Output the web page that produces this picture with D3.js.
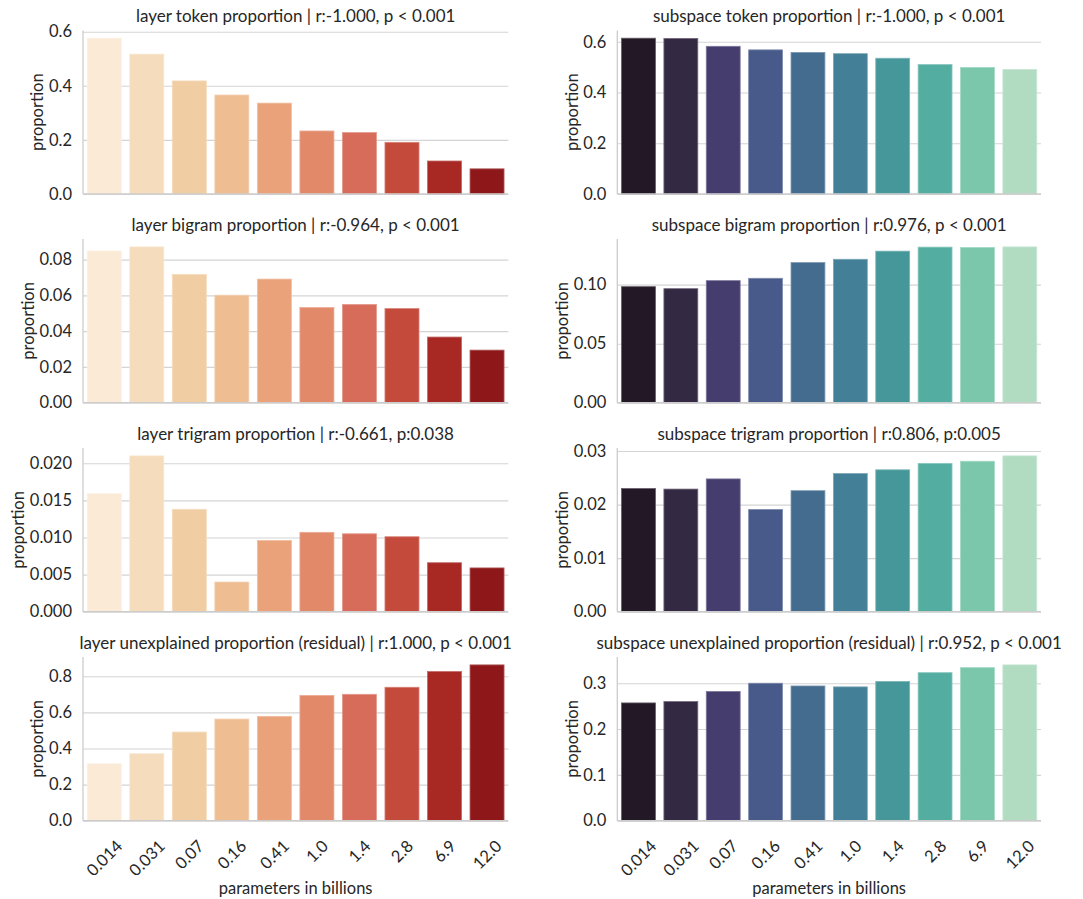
<!DOCTYPE html>
<html>
<head>
<meta charset="utf-8">
<script src="https://cdn.jsdelivr.net/npm/d3@7"></script>
<style>
  html, body { margin: 0; padding: 0; background: #ffffff; }
  svg text { font-family: "Lato", "Noto Sans", sans-serif; fill: #262626; }
</style>
</head>
<body>
<svg id="chart" width="1083" height="899"></svg>
<script>
// Model sizes (billions of parameters) on the x axis
const categories = ["0.014", "0.031", "0.07", "0.16", "0.41", "1.0", "1.4", "2.8", "6.9", "12.0"];

// Proportions explained per model size
const layerToken       = [0.576, 0.517, 0.418, 0.366, 0.336, 0.233, 0.227, 0.191, 0.122, 0.093];
const subspaceToken    = [0.614, 0.613, 0.582, 0.568, 0.558, 0.553, 0.535, 0.510, 0.499, 0.491];
const layerBigram      = [0.0848, 0.0871, 0.0717, 0.0601, 0.0691, 0.0532, 0.0549, 0.0526, 0.0367, 0.0294];
const subspaceBigram   = [0.0983, 0.0966, 0.1034, 0.1054, 0.1187, 0.1215, 0.1284, 0.1318, 0.1315, 0.1320];
const layerTrigram     = [0.0159, 0.0210, 0.0138, 0.0040, 0.0096, 0.0107, 0.0105, 0.0101, 0.0066, 0.0059];
const subspaceTrigram  = [0.0230, 0.0229, 0.0248, 0.0191, 0.0226, 0.0258, 0.0265, 0.0277, 0.0281, 0.0291];
const layerResidual    = [0.315, 0.371, 0.491, 0.563, 0.578, 0.694, 0.700, 0.739, 0.826, 0.863];
const subspaceResidual = [0.257, 0.260, 0.282, 0.300, 0.294, 0.292, 0.304, 0.323, 0.334, 0.340];

// Y tick values for each panel
const layerTokenTicks       = [0, 0.2, 0.4, 0.6];
const subspaceTokenTicks    = [0, 0.2, 0.4, 0.6];
const layerBigramTicks      = [0, 0.02, 0.04, 0.06, 0.08];
const subspaceBigramTicks   = [0, 0.05, 0.10];
const layerTrigramTicks     = [0, 0.005, 0.010, 0.015, 0.020];
const subspaceTrigramTicks  = [0, 0.01, 0.02, 0.03];
const layerResidualTicks    = [0, 0.2, 0.4, 0.6, 0.8];
const subspaceResidualTicks = [0, 0.1, 0.2, 0.3];

// Panel titles
const titles = [
  "layer token proportion | r:-1.000, p < 0.001",
  "subspace token proportion | r:-1.000, p < 0.001",
  "layer bigram proportion | r:-0.964, p < 0.001",
  "subspace bigram proportion | r:0.976, p < 0.001",
  "layer trigram proportion | r:-0.661, p:0.038",
  "subspace trigram proportion | r:0.806, p:0.005",
  "layer unexplained proportion (residual) | r:1.000, p < 0.001",
  "subspace unexplained proportion (residual) | r:0.952, p < 0.001"
];

// Palettes: warm sequential for layer panels, dark-to-mint for subspace panels
const layerColors    = ["#faead6", "#f5dcbc", "#f0cda2", "#eebd92", "#eaa27a", "#e2896a", "#d86c5a", "#c44b3c", "#a82824", "#8e1819"];
const subspaceColors = ["#221826", "#342943", "#453d6e", "#485a8a", "#446c8f", "#437f96", "#45979a", "#53ada1", "#7ac7ab", "#b1dcc1"];

const yLabel = "proportion";
const xLabel = "parameters in billions";

const panels = [
  { values: layerToken,       ticks: layerTokenTicks,       colors: layerColors,    col: 0, row: 0, title: titles[0] },
  { values: subspaceToken,    ticks: subspaceTokenTicks,    colors: subspaceColors, col: 1, row: 0, title: titles[1] },
  { values: layerBigram,      ticks: layerBigramTicks,      colors: layerColors,    col: 0, row: 1, title: titles[2] },
  { values: subspaceBigram,   ticks: subspaceBigramTicks,   colors: subspaceColors, col: 1, row: 1, title: titles[3] },
  { values: layerTrigram,     ticks: layerTrigramTicks,     colors: layerColors,    col: 0, row: 2, title: titles[4] },
  { values: subspaceTrigram,  ticks: subspaceTrigramTicks,  colors: subspaceColors, col: 1, row: 2, title: titles[5] },
  { values: layerResidual,    ticks: layerResidualTicks,    colors: layerColors,    col: 0, row: 3, title: titles[6] },
  { values: subspaceResidual, ticks: subspaceResidualTicks, colors: subspaceColors, col: 1, row: 3, title: titles[7] }
];

// Grid geometry
const colX = [[83, 508.3], [617.3, 1041]];
const rowBottom = [194, 402.7, 611.7, 820.7];
const plotH = 163.6;

const TITLE_FONT = 17;
const LABEL_FONT = 16.5;
const TICK_FONT = 16.5;
const GRID = "#d4d4d4";
const SPINE = "#cccccc";

const svg = d3.select("#chart");

panels.forEach(p => {
  const [x0, x1] = colX[p.col];
  const bottom = rowBottom[p.row];
  const top = bottom - plotH;
  const g = svg.append("g");

  const x = d3.scaleBand().domain(categories).range([x0, x1]).paddingInner(0.2).paddingOuter(0.1);
  const y = d3.scaleLinear().domain([0, d3.max(p.values) * 1.05]).range([bottom, top]);
  const step = p.ticks[1] - p.ticks[0];
  const fmt = d3.format("." + d3.precisionFixed(step) + "f");

  // Horizontal grid lines
  const gridG = g.append("g")
    .attr("transform", `translate(${x0},0)`)
    .call(d3.axisLeft(y).tickValues(p.ticks).tickSize(-(x1 - x0)).tickFormat(""));
  gridG.select(".domain").remove();
  gridG.selectAll("line").attr("stroke", GRID).attr("stroke-width", 1.1);

  // Bars
  g.append("g").selectAll("rect")
    .data(p.values)
    .join("rect")
    .attr("x", (d, i) => x(categories[i]))
    .attr("width", x.bandwidth())
    .attr("y", d => y(d))
    .attr("height", d => bottom - y(d))
    .attr("fill", (d, i) => p.colors[i])
    .attr("stroke", (d, i) => d3.interpolateRgb(p.colors[i], "#ffffff")(0.3))
    .attr("stroke-width", 0.8);

  // Y axis tick labels
  const yAxis = d3.axisLeft(y).tickValues(p.ticks).tickFormat(fmt).tickSize(0).tickPadding(11);
  const yAxisG = g.append("g").attr("transform", `translate(${x0},0)`).call(yAxis);
  yAxisG.select(".domain").remove();
  yAxisG.attr("font-family", null).attr("font-size", null);
  yAxisG.selectAll("text").attr("font-size", TICK_FONT).attr("fill", "#262626");

  // Spines (left and bottom only)
  g.append("line").attr("x1", x0).attr("x2", x0).attr("y1", top).attr("y2", bottom)
    .attr("stroke", SPINE).attr("stroke-width", 1.3);
  g.append("line").attr("x1", x0).attr("x2", x1).attr("y1", bottom).attr("y2", bottom)
    .attr("stroke", SPINE).attr("stroke-width", 1.3);

  // Y label placed just left of the widest tick label
  let maxW = 0;
  yAxisG.selectAll("text").each(function () { maxW = Math.max(maxW, this.getComputedTextLength()); });
  const lx = x0 - 11 - maxW - 11.5;
  const ly = (top + bottom) / 2;
  g.append("text")
    .attr("transform", `translate(${lx},${ly}) rotate(-90)`)
    .attr("text-anchor", "middle")
    .attr("dominant-baseline", "central")
    .attr("font-size", LABEL_FONT)
    .text(yLabel);

  // Title
  g.append("text")
    .attr("x", (x0 + x1) / 2)
    .attr("y", top - 8.5)
    .attr("text-anchor", "middle")
    .attr("font-size", TITLE_FONT)
    .text(p.title);

  // X tick labels and axis label on the bottom row
  if (p.row === 3) {
    const s = Math.SQRT1_2;
    categories.forEach(c => {
      const t = g.append("text")
        .attr("text-anchor", "middle")
        .attr("dominant-baseline", "central")
        .attr("font-size", TICK_FONT)
        .text(c);
      const w = t.node().getComputedTextLength();
      const h = TICK_FONT * 0.75;
      const half = (w + h) * s / 2;
      const cx = x(c) + x.bandwidth() / 2;
      const cy = bottom + 18 + half;
      t.attr("transform", `translate(${cx},${cy}) rotate(-45)`);
    });
    g.append("text")
      .attr("x", (x0 + x1) / 2)
      .attr("y", 894)
      .attr("text-anchor", "middle")
      .attr("font-size", LABEL_FONT)
      .text(xLabel);
  }
});
</script>
</body>
</html>
